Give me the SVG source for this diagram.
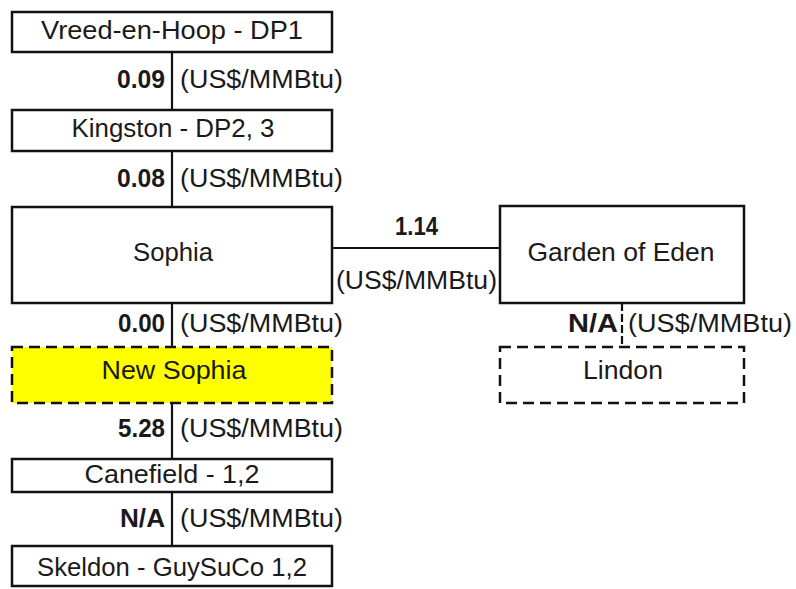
<svg xmlns="http://www.w3.org/2000/svg" width="796" height="589" viewBox="0 0 796 589">
<style>
.box{fill:#fff;stroke:#111;stroke-width:2.5}
.dash{stroke-dasharray:11 6}
.hl{fill:#ffff00}
.t{font-family:"Liberation Sans",Arial,sans-serif;font-size:26px;fill:#1a1a1a}
.c{text-anchor:middle}
.b{font-weight:bold;text-anchor:end}
.line{stroke:#111;stroke-width:2.2;fill:none}
</style>
<rect width="796" height="589" fill="#fff"/>
<g id="connectors">
<line class="line" x1="172" y1="52" x2="172" y2="110"/>
<line class="line" x1="172" y1="151" x2="172" y2="207"/>
<line class="line" x1="172" y1="303" x2="172" y2="347"/>
<line class="line" x1="172" y1="403" x2="172" y2="459"/>
<line class="line" x1="172" y1="492" x2="172" y2="546"/>
<line class="line" x1="332" y1="248" x2="500" y2="248"/>
<line class="line" x1="622" y1="303" x2="622" y2="347" stroke-width="1.5" stroke-dasharray="8 3"/>
<text class="t b" x="165" y="88" textLength="48" lengthAdjust="spacingAndGlyphs">0.09</text>
<text class="t" x="180" y="88" textLength="163" lengthAdjust="spacingAndGlyphs">(US$/MMBtu)</text>
<text class="t b" x="165" y="187" textLength="48" lengthAdjust="spacingAndGlyphs">0.08</text>
<text class="t" x="180" y="187" textLength="163" lengthAdjust="spacingAndGlyphs">(US$/MMBtu)</text>
<text class="t b" x="165" y="332" textLength="47" lengthAdjust="spacingAndGlyphs">0.00</text>
<text class="t" x="180" y="332" textLength="163" lengthAdjust="spacingAndGlyphs">(US$/MMBtu)</text>
<text class="t b" x="165" y="437" textLength="47" lengthAdjust="spacingAndGlyphs">5.28</text>
<text class="t" x="180" y="437" textLength="163" lengthAdjust="spacingAndGlyphs">(US$/MMBtu)</text>
<text class="t b" x="165" y="527" textLength="45" lengthAdjust="spacingAndGlyphs">N/A</text>
<text class="t" x="180" y="527" textLength="163" lengthAdjust="spacingAndGlyphs">(US$/MMBtu)</text>
<text class="t b" x="438" y="235" textLength="43" lengthAdjust="spacingAndGlyphs">1.14</text>
<text class="t" x="336" y="289" textLength="161" lengthAdjust="spacingAndGlyphs">(US$/MMBtu)</text>
<text class="t b" x="618" y="332" textLength="50" lengthAdjust="spacingAndGlyphs">N/A</text>
<text class="t" x="628" y="332" textLength="164" lengthAdjust="spacingAndGlyphs">(US$/MMBtu)</text>
</g>
<g id="vreed">
<rect class="box" x="12" y="12" width="320" height="40"/>
<text class="t c" x="172" y="39" textLength="262" lengthAdjust="spacingAndGlyphs">Vreed-en-Hoop - DP1</text>
</g>
<g id="kingston">
<rect class="box" x="12" y="110" width="320" height="41"/>
<text class="t c" x="173" y="137" textLength="203" lengthAdjust="spacingAndGlyphs">Kingston - DP2, 3</text>
</g>
<g id="sophia">
<rect class="box" x="12" y="207" width="320" height="96"/>
<text class="t c" x="173" y="261" textLength="80" lengthAdjust="spacingAndGlyphs">Sophia</text>
</g>
<g id="newsophia">
<rect class="box dash hl" x="12" y="347" width="320" height="56"/>
<text class="t c" x="174" y="379" textLength="145" lengthAdjust="spacingAndGlyphs">New Sophia</text>
</g>
<g id="canefield">
<rect class="box" x="12" y="459" width="320" height="33"/>
<text class="t c" x="172" y="483" textLength="175" lengthAdjust="spacingAndGlyphs">Canefield - 1,2</text>
</g>
<g id="skeldon">
<rect class="box" x="12" y="546" width="320" height="40"/>
<text class="t c" x="172" y="576" textLength="270" lengthAdjust="spacingAndGlyphs">Skeldon - GuySuCo 1,2</text>
</g>
<g id="garden">
<rect class="box" x="500" y="206" width="244" height="97"/>
<text class="t c" x="621" y="261" textLength="187" lengthAdjust="spacingAndGlyphs">Garden of Eden</text>
</g>
<g id="lindon">
<rect class="box dash" x="500" y="347" width="244" height="56"/>
<text class="t c" x="623" y="379" textLength="80" lengthAdjust="spacingAndGlyphs">Lindon</text>
</g>
</svg>
